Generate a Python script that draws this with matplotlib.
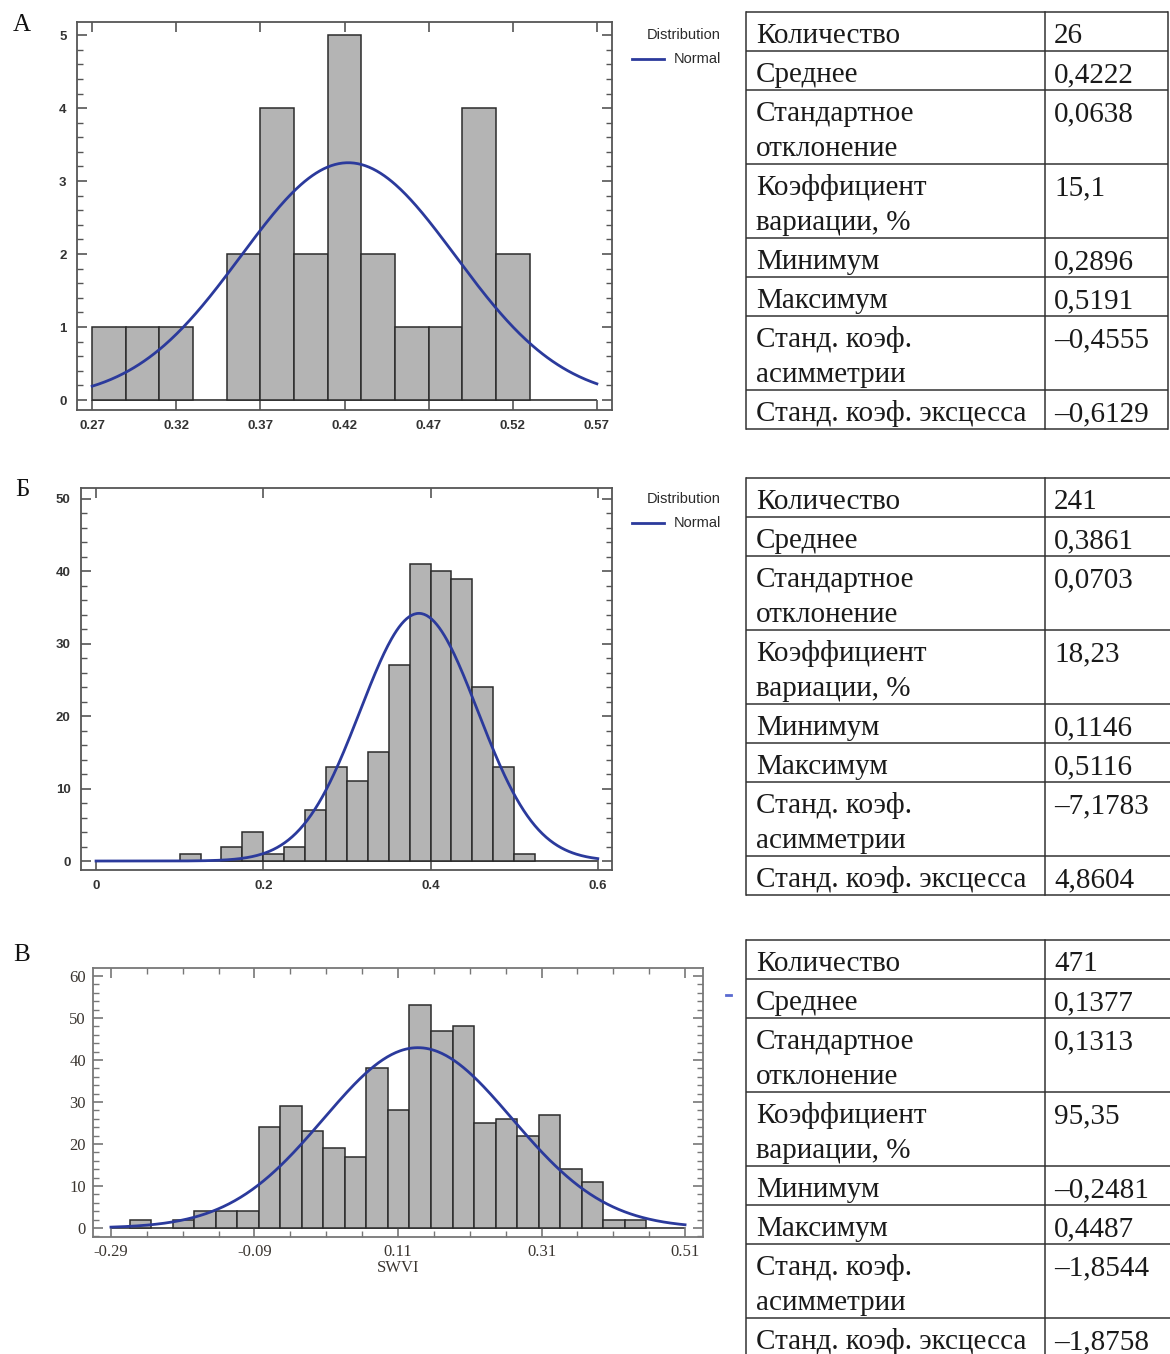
import numpy as np
import matplotlib
matplotlib.use("Agg")
import matplotlib.pyplot as plt
from matplotlib.ticker import MultipleLocator, FixedLocator

# ---------------- data ----------------
# Panel A
a_bin_start = 0.27
a_bin_width = 0.02
a_counts = [1, 1, 1, 0, 2, 4, 2, 5, 2, 1, 1, 4, 2]
a_n, a_mean, a_sd = 26, 0.4222, 0.0638
a_curve_range = (0.27, 0.57)
a_xticks = [0.27, 0.32, 0.37, 0.42, 0.47, 0.52, 0.57]
a_yticks = [0, 1, 2, 3, 4, 5]

# Panel B
b_bin_start = 0.0
b_bin_width = 0.025
b_counts = [0, 0, 0, 0, 1, 0, 2, 4, 1, 2, 7, 13, 11, 15, 27, 41, 40, 39, 24, 13, 1]
b_n, b_mean, b_sd = 241, 0.3861, 0.0703
b_curve_range = (0.0, 0.6)
b_xticks = [0, 0.2, 0.4, 0.6]
b_yticks = [0, 10, 20, 30, 40, 50]

# Panel C
c_bin_start = -0.264
c_bin_width = 0.03
c_counts = [2, 0, 2, 4, 4, 4, 24, 29, 23, 19, 17, 38, 28, 53, 47, 48, 25, 26, 22, 27, 14, 11, 2, 2]
c_n, c_mean, c_sd = 471, 0.1377, 0.1313
c_curve_range = (-0.29, 0.51)
c_xticks = [-0.29, -0.09, 0.11, 0.31, 0.51]
c_yticks = [0, 10, 20, 30, 40, 50, 60]
c_xlabel = "SWVI"

panel_letters = ["А", "Б", "В"]
legend_title = "Distribution"
legend_entry = "Normal"

row_labels = [["Количество"], ["Среднее"], ["Стандартное", "отклонение"],
              ["Коэффициент", "вариации, %"], ["Минимум"], ["Максимум"],
              ["Станд. коэф.", "асимметрии"], ["Станд. коэф. эксцесса"]]
a_table_vals = ["26", "0,4222", "0,0638", "15,1", "0,2896", "0,5191", "–0,4555", "–0,6129"]
b_table_vals = ["241", "0,3861", "0,0703", "18,23", "0,1146", "0,5116", "–7,1783", "4,8604"]
c_table_vals = ["471", "0,1377", "0,1313", "95,35", "–0,2481", "0,4487", "–1,8544", "–1,8758"]

# ---------------- figure ----------------
W, H = 1170, 1354
fig = plt.figure(figsize=(W / 100, H / 100), dpi=100)
fig.patch.set_facecolor("white")

over = fig.add_axes([0, 0, 1, 1])
over.set_xlim(0, W)
over.set_ylim(H, 0)
over.axis("off")

BAR_FC = "#b4b4b4"
BAR_EC = "#2b2b2b"
CURVE = "#2b3a9c"
SANS = ["Liberation Sans", "DejaVu Sans"]
SERIF = ["Liberation Serif", "DejaVu Serif"]


def px_axes(l, t, r, b):
    return fig.add_axes([l / W, 1 - b / H, (r - l) / W, (b - t) / H])


def draw_hist(ax, start, width, counts, n, mean, sd, crange):
    edges = start + width * np.arange(len(counts) + 1)
    counts = np.asarray(counts, dtype=float)
    ax.bar(edges[:-1][counts > 0], counts[counts > 0], width=width, align="edge",
           color=BAR_FC, edgecolor=BAR_EC, linewidth=1.1, zorder=2)
    xs = np.linspace(crange[0], crange[1], 400)
    ys = n * width * np.exp(-0.5 * ((xs - mean) / sd) ** 2) / (sd * np.sqrt(2 * np.pi))
    ax.hlines(0, crange[0], crange[1], color="#333333", linewidth=1.2, zorder=1)
    ax.plot(xs, ys, color=CURVE, linewidth=2.0, zorder=3)


def style_axes(ax, spine_color, label_color, family, size, ymin_step, pad, weight):
    for s in ax.spines.values():
        s.set_color(spine_color)
        s.set_linewidth(1.3)
    ax.tick_params(which="both", direction="in", top=True, right=True,
                   colors=spine_color, labelcolor=label_color, labelsize=size, pad=pad)
    ax.tick_params(which="major", length=7, width=1.2)
    ax.tick_params(which="minor", length=4, width=1.0)
    ax.yaxis.set_minor_locator(MultipleLocator(ymin_step))
    for lab in ax.get_xticklabels() + ax.get_yticklabels():
        lab.set_family(family)
        lab.set_fontweight(weight)


# Panel A
axA = px_axes(77, 22, 612, 410)
draw_hist(axA, a_bin_start, a_bin_width, a_counts, a_n, a_mean, a_sd, a_curve_range)
axA.set_xlim(0.261, 0.579)
axA.set_ylim(-0.137, 5.18)
axA.set_xticks(a_xticks)
axA.set_xticklabels([f"{v:.2f}" for v in a_xticks])
axA.set_yticks(a_yticks)
style_axes(axA, "#555555", "#333333", SANS, 9.5, 0.2, 7.5, "bold")

# Panel B
axB = px_axes(81, 488, 612, 870)
draw_hist(axB, b_bin_start, b_bin_width, b_counts, b_n, b_mean, b_sd, b_curve_range)
axB.set_xlim(-0.018, 0.617)
axB.set_ylim(-1.24, 51.5)
axB.set_xticks(b_xticks)
axB.set_xticklabels(["0", "0.2", "0.4", "0.6"])
axB.set_yticks(b_yticks)
style_axes(axB, "#555555", "#333333", SANS, 9.5, 2, 7.5, "bold")

# Panel C
axC = px_axes(93, 968, 703, 1237)
draw_hist(axC, c_bin_start, c_bin_width, c_counts, c_n, c_mean, c_sd, c_curve_range)
axC.set_xlim(-0.315, 0.535)
axC.set_ylim(-2.14, 61.9)
axC.set_xticks(c_xticks)
axC.set_xticklabels([f"{v:.2f}" for v in c_xticks])
axC.set_yticks(c_yticks)
style_axes(axC, "#777777", "#3a3530", SERIF, 12, 2, 5, "normal")
axC.xaxis.set_minor_locator(FixedLocator(np.arange(-0.29, 0.52, 0.05)))
axC.set_xlabel(c_xlabel, family=SERIF, fontsize=12, color="#3a3530", labelpad=0)

# Legends for A and B
for y0 in (35, 499):
    over.text(721, y0, legend_title, ha="right", va="center", fontsize=10.5,
              family=SANS, color="#2a2a2a")
    over.plot([632, 664], [y0 + 24, y0 + 24], color=CURVE, lw=2)
    over.text(721, y0 + 24, legend_entry, ha="right", va="center", fontsize=10.5,
              family=SANS, color="#2a2a2a")

# stray mark in panel C
over.plot([726, 731], [995, 995], color="#5a6ad0", lw=2)

# panel letters
for y0, letter in zip((25, 490, 955), panel_letters):
    over.text(22, y0, letter, ha="center", va="center", fontsize=18,
              family=SERIF, color="#111111")

# tables
TL, TD = 746, 1045
LINE_C = "#333333"


def draw_table(top, vals, right, right_border):
    y = top
    bounds = [top]
    for lab, val in zip(row_labels, vals):
        h = 39 if len(lab) == 1 else 74
        for i, line in enumerate(lab):
            over.text(756, y + 31 + 35 * i, line, ha="left", va="baseline",
                      fontsize=21, family=SERIF, color="#1a1a1a")
        over.text(1054, y + 31, val, ha="left", va="baseline",
                  fontsize=21, family=SERIF, color="#1a1a1a")
        y += h
        bounds.append(y)
    for b in bounds:
        over.plot([TL, right], [b, b], color=LINE_C, lw=1.1, solid_capstyle="butt")
    over.plot([TL, TL], [top, bounds[-1]], color=LINE_C, lw=1.1)
    over.plot([TD, TD], [top, bounds[-1]], color=LINE_C, lw=1.1)
    if right_border:
        over.plot([right, right], [top, bounds[-1]], color=LINE_C, lw=1.1)


draw_table(12, a_table_vals, 1168, True)
draw_table(478, b_table_vals, 1170, False)
draw_table(940, c_table_vals, 1170, False)

fig.savefig("out.png", dpi=100, facecolor="white")
